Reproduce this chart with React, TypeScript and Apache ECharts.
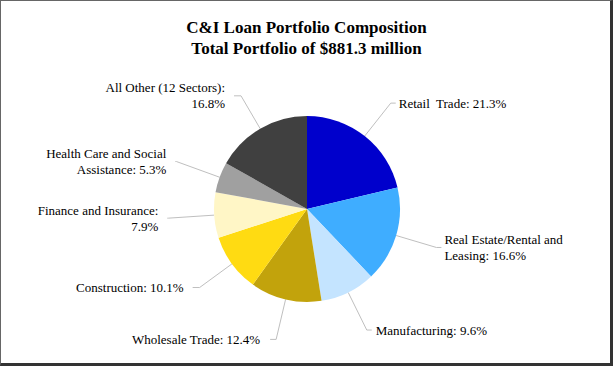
import React, { useEffect, useRef } from "react";
import * as echarts from "echarts";

const titleLines = ["C&I Loan Portfolio Composition", "Total Portfolio of $881.3 million"];
const categories = [
  "Retail  Trade",
  "Real Estate/Rental and\nLeasing",
  "Manufacturing",
  "Wholesale Trade",
  "Construction",
  "Finance and Insurance:\n",
  "Health Care and Social\nAssistance",
  "All Other (12 Sectors):\n",
];
const values = [21.3, 16.6, 9.6, 12.4, 10.1, 7.9, 5.3, 16.8];
const colors = ["#0000CC", "#3FADFF", "#C4E4FF", "#C2A30C", "#FFDB12", "#FFF6C6", "#A0A0A0", "#404040"];
// label line geometry per slice: [length, length2, gap to text]
const lineLengths = [42, 42, 42, 41, 40, 46, 46, 38];
const lineLengths2 = [5, 5, 5, 6, 7, 1, 1, 7];
const textGaps = [3, 3, 4, 10, 9, 9, 9, 9];

export default function App() {
  const ref = useRef<HTMLDivElement>(null);
  useEffect(() => {
    if (!ref.current) return;
    const chart = echarts.init(ref.current, null, { renderer: "svg" });
    const font = "Liberation Serif";
    chart.setOption({
      animation: false,
      textStyle: { fontFamily: font },
      title: {
        text: titleLines.join("\n"),
        left: "center",
        top: 12,
        textStyle: {
          fontFamily: font,
          fontWeight: "bold",
          fontSize: 17,
          lineHeight: 21,
          color: "#000",
        },
      },
      series: [
        {
          type: "pie",
          center: [307, 209],
          radius: 93,
          startAngle: 90,
          clockwise: true,
          avoidLabelOverlap: false,
          data: categories.map((c, i) => ({
            name: c,
            value: values[i],
            itemStyle: { color: colors[i] },
            label: { distanceToLabelLine: textGaps[i] },
            labelLine: { length: lineLengths[i], length2: lineLengths2[i] },
          })),
          label: {
            show: true,
            position: "outside",
            fontFamily: font,
            fontSize: 13,
            lineHeight: 16,
            color: "#000",
            formatter: (p: any) => {
              const n: string = p.name;
              const v = values[p.dataIndex].toFixed(1) + "%";
              if (n.endsWith("\n")) return n + v;
              return n + ": " + v;
            },
          },
          labelLine: {
            show: true,
            lineStyle: { color: "#BFBFBF", width: 1 },
          },
          emphasis: { disabled: true },
        },
      ],
    });
    return () => chart.dispose();
  }, []);
  return (
    <div
      style={{
        position: "fixed",
        left: 0,
        top: 0,
        width: 613,
        height: 366,
        boxSizing: "border-box",
        borderLeft: "1px solid #666",
        borderTop: "1px solid #666",
        borderRight: "3px solid #333",
        borderBottom: "3px solid #333",
        background: "#fff",
      }}
    >
      <div ref={ref} style={{ position: "absolute", left: -1, top: -1, width: 613, height: 366 }} />
    </div>
  );
}
